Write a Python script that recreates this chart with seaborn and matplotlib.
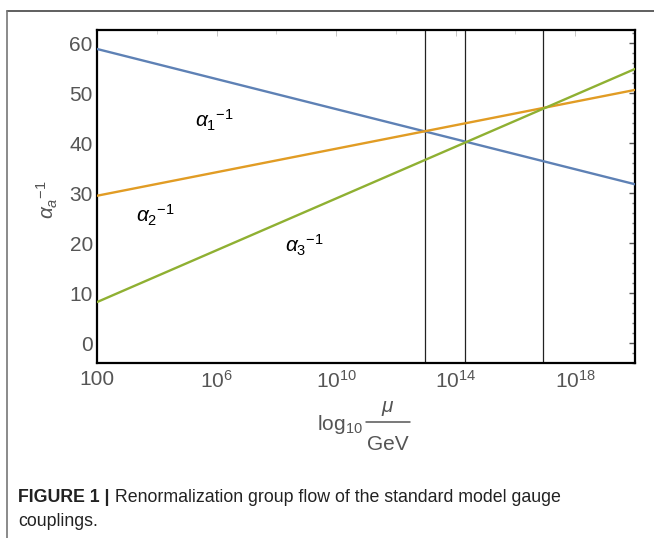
import numpy as np
import pandas as pd
import matplotlib
matplotlib.use("Agg")
import matplotlib.pyplot as plt
import seaborn as sns
from matplotlib.ticker import FixedLocator, FixedFormatter, NullFormatter
from matplotlib.lines import Line2D

# ---- data ----
mu_endpoints = [1e2, 1e20]
alpha1_inv = [58.9, 31.8]
alpha2_inv = [29.5, 50.7]
alpha3_inv = [8.2, 54.9]
series_names = ["a1", "a2", "a3"]
series_labels = [r"$\alpha_1{}^{-1}$", r"$\alpha_2{}^{-1}$", r"$\alpha_3{}^{-1}$"]
crossing_scales = [10 ** 12.97, 10 ** 14.31, 10 ** 16.92]
x_tick_values = [1e2, 1e6, 1e10, 1e14, 1e18]
x_tick_labels = ["100", r"$10^{6}$", r"$10^{10}$", r"$10^{14}$", r"$10^{18}$"]
x_minor_values = [1e4, 1e8, 1e12, 1e16, 1e20]
y_tick_values = [0, 10, 20, 30, 40, 50, 60]

colors = ["#5E81B5", "#E19C24", "#8FB032"]

sns.set_theme(style="white")
plt.rcParams["font.family"] = ["Liberation Sans", "DejaVu Sans"]
plt.rcParams["mathtext.fontset"] = "custom"
plt.rcParams["mathtext.rm"] = "Liberation Sans"
plt.rcParams["mathtext.it"] = "Liberation Sans:italic"
plt.rcParams["mathtext.bf"] = "Liberation Sans:bold"

fig = plt.figure(figsize=(6.54, 5.38), dpi=100)
W, H = 654.0, 538.0
ax = fig.add_axes([97 / W, 1 - 363 / H, 538 / W, 333 / H])

rows = []
for name, vals in zip(series_names, [alpha1_inv, alpha2_inv, alpha3_inv]):
    for m, v in zip(mu_endpoints, vals):
        rows.append({"mu": m, "value": v, "series": name})
df = pd.DataFrame(rows)

sns.lineplot(data=df, x="mu", y="value", hue="series", palette=colors,
             linewidth=1.7, legend=False, ax=ax, zorder=3)
for c in crossing_scales:
    ax.axvline(c, color="#222222", lw=0.9, zorder=2)

ax.set_xscale("log")
ax.set_xlim(1e2, 1e20)
ax.set_ylim(-4, 62.7)
ax.set_xlabel("")
ax.set_ylabel("")

ax.xaxis.set_major_locator(FixedLocator(x_tick_values))
ax.xaxis.set_major_formatter(FixedFormatter(x_tick_labels))
ax.xaxis.set_minor_locator(FixedLocator(x_minor_values))
ax.xaxis.set_minor_formatter(NullFormatter())
ax.yaxis.set_major_locator(FixedLocator(y_tick_values))
ax.yaxis.set_minor_locator(FixedLocator(np.arange(-4, 63, 2)))

label_gray = "#555555"
ax.tick_params(axis="both", which="both", direction="in", top=True, right=True,
               labelcolor=label_gray, labelsize=15)
ax.tick_params(axis="x", which="major", length=4, width=0.6, color="#bbbbbb", pad=5)
ax.tick_params(axis="x", which="minor", length=3, width=0.6, color="#cccccc")
ax.tick_params(axis="y", which="major", length=4, width=1.0, color="#555555", pad=3)
ax.tick_params(axis="y", which="minor", length=2, width=1.0, color="#777777")

for s in ax.spines.values():
    s.set_color("black")
    s.set_linewidth(1.6)

# line labels
label_pos = [(10 ** 5.91, 44.6), (10 ** 3.94, 25.6), (10 ** 8.93, 19.6)]
for (x, y), t in zip(label_pos, series_labels):
    ax.text(x, y, t, fontsize=15, color="black", ha="center", va="center")

# y axis title
ax.text(-0.093, 0.49, r"$\alpha_a{}^{-1}$", transform=ax.transAxes, rotation=90,
        fontsize=15, color=label_gray, ha="center", va="center")

# x axis title: log10 (mu / GeV) built as a stacked fraction
fig.text(340 / W, 1 - 425 / H, r"log$_{10}$", fontsize=15, color=label_gray,
         ha="center", va="center")
fig.text(388 / W, 1 - 409 / H, r"$\mu$", fontsize=15, color=label_gray,
         ha="center", va="center")
fig.add_artist(Line2D([366 / W, 410 / W], [1 - 422 / H, 1 - 422 / H],
                      transform=fig.transFigure, color=label_gray, lw=1.1))
fig.text(388 / W, 1 - 444 / H, "GeV", fontsize=15, color=label_gray,
         ha="center", va="center")

# frame of the figure box
fig.add_artist(Line2D([7 / W, 1.0], [1 - 11 / H, 1 - 11 / H], transform=fig.transFigure,
                      color="#444444", lw=1.2))
fig.add_artist(Line2D([7 / W, 7 / W], [0.0, 1 - 11 / H], transform=fig.transFigure,
                      color="#777777", lw=1.2))

# caption
cap_size = 12.8
t1 = fig.text(18 / W, 1 - 497 / H, "FIGURE 1 |", fontsize=cap_size, weight="bold",
              color="#222222", ha="left", va="center")
fig.canvas.draw()
bb = t1.get_window_extent(renderer=fig.canvas.get_renderer())
x_next = bb.x1 / (fig.dpi * 6.54)
fig.text(x_next, 1 - 497 / H, " Renormalization group flow of the standard model gauge",
         fontsize=cap_size, color="#222222", ha="left", va="center")
fig.text(18 / W, 1 - 522 / H, "couplings.", fontsize=cap_size, color="#222222",
         ha="left", va="center")

fig.savefig("out.png", dpi=100)
